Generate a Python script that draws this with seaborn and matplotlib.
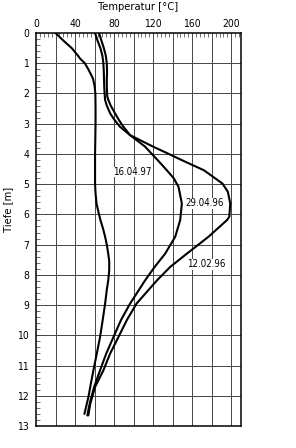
import numpy as np
import pandas as pd
import matplotlib
matplotlib.use("Agg")
import matplotlib.pyplot as plt
import seaborn as sns
from matplotlib.ticker import MultipleLocator

# --- data ---
depth_a = [0, 0.25, 0.5, 0.75, 0.84, 1.0, 1.2, 1.5, 1.75, 2.0, 2.5, 3.0, 4.0, 5.0, 5.3, 5.64,
           5.9, 6.19, 6.45, 6.74, 7.0, 7.3, 7.55, 7.85, 8.18, 8.5, 8.95, 9.5, 10.06, 10.6,
           11.16, 11.6, 12.04, 12.3, 12.6]
temp_a = [20, 28, 36.6, 43, 45, 50, 53.6, 58.3, 60, 60.8, 61, 61, 60.5, 60.5, 61, 62,
          63.8, 66, 68.5, 70.8, 72.5, 74, 75, 75, 74, 72.5, 70.8, 68.3, 65.6, 62.3,
          58.8, 56.2, 53.7, 51.8, 49.6]

depth_b = [0, 0.25, 0.5, 0.75, 1.0, 1.3, 1.56, 1.85, 2.1, 2.22, 2.4, 2.66, 2.88, 3.1, 3.38,
           3.76, 4.0, 4.2, 4.54, 4.8, 5.09, 5.64, 6.19, 6.74, 7.3, 7.74, 8.18, 8.95, 9.5, 10.06,
           10.6, 11.16, 11.71, 12.26, 12.65]
temp_b = [64.6, 67, 69.5, 71.5, 72.5, 72.8, 72.5, 72.6, 73, 74.2, 76.5, 81, 85, 89.5, 96.4,
          111.8, 118.6, 124.5, 134, 141, 146, 149.4, 147.7, 142.6, 132.3, 121.5, 111.8, 96.4, 87, 79.3,
          72, 65.6, 59.5, 55, 52.6]

depth_c = [0, 0.25, 0.5, 0.75, 1.0, 1.3, 1.56, 1.85, 2.1, 2.22, 2.4, 2.66, 2.88, 3.1, 3.38,
           3.76, 4.0, 4.2, 4.54, 4.98, 5.25, 5.64, 6.08, 6.19, 6.74, 7.3, 7.74, 8.18, 8.95, 9.5,
           10.06, 10.6, 11.16, 11.71, 12.26, 12.65]
temp_c = [60.5, 63, 66, 68, 69, 69.5, 69.7, 70, 70.5, 70.8, 72.5, 76, 80.5, 86, 96.4,
          120, 136, 149, 172, 191, 196.5, 199, 198, 195.6, 176.7, 154.5, 137.4, 124, 103, 93,
          84.4, 76, 69, 60.5, 55.6, 53.6]

series_names = ["16.04.97", "29.04.96", "12.02.96"]
label_pos_t = [79, 153, 154.5]
label_pos_d = [4.6, 5.63, 7.65]
x_ticks = [0, 40, 80, 120, 160, 200]
y_ticks = list(range(0, 14))

df = pd.concat([
    pd.DataFrame({"Temperatur": temp_a, "Tiefe": depth_a, "Serie": series_names[0]}),
    pd.DataFrame({"Temperatur": temp_b, "Tiefe": depth_b, "Serie": series_names[1]}),
    pd.DataFrame({"Temperatur": temp_c, "Tiefe": depth_c, "Serie": series_names[2]}),
])

sns.set_style("white")
plt.rcParams["font.family"] = ["DejaVu Sans"]
plt.rcParams["font.stretch"] = "condensed"
plt.rcParams["text.color"] = "black"
plt.rcParams["axes.labelcolor"] = "black"
plt.rcParams["xtick.color"] = "black"
plt.rcParams["ytick.color"] = "black"

fig = plt.figure(figsize=(2.96, 4.48), dpi=100)
ax = fig.add_axes([36 / 296, 1 - 426 / 448, 205 / 296, 393 / 448])

sns.lineplot(data=df, x="Temperatur", y="Tiefe", hue="Serie", orient="y", sort=True,
             estimator=None, palette=["black"] * 3, legend=False, linewidth=1.5, ax=ax)
for ln in ax.get_lines():
    ln.set_solid_joinstyle("round")
    ln.set_solid_capstyle("round")

for name, t, d in zip(series_names, label_pos_t, label_pos_d):
    ax.text(t, d, name, fontsize=7, ha="left", va="center", fontstretch="condensed",
            color="black", bbox=dict(facecolor="white", edgecolor="none", pad=0.3))

ax.set_xlim(0, 210)
ax.set_ylim(13, 0)
ax.xaxis.tick_top()
ax.xaxis.set_label_position("top")
ax.set_xticks(x_ticks)
ax.set_yticks(y_ticks)
ax.xaxis.set_minor_locator(MultipleLocator(4))
ax.yaxis.set_minor_locator(MultipleLocator(0.2))
ax.tick_params(axis="x", which="major", length=0, labelsize=7.5, pad=3, labelcolor="black")
ax.tick_params(axis="y", which="major", length=0, labelsize=7.5, pad=5, labelcolor="black")
ax.tick_params(axis="x", which="minor", direction="in", length=3, width=0.6, top=True, bottom=False, color="#555555")
ax.tick_params(axis="y", which="minor", direction="in", length=3, width=0.6, left=True, right=False, color="#555555")

for v in range(20, 210, 20):
    ax.axvline(v, color="#444444", linewidth=0.7, zorder=0)
for h in range(1, 13):
    ax.axhline(h, color="#444444", linewidth=0.7, zorder=0)

ax.set_xlabel("Temperatur [°C]", fontsize=8, labelpad=6, color="black")
ax.set_ylabel("Tiefe [m]", fontsize=8, color="black")
ax.yaxis.set_label_coords(-0.11, 0.55)
for s in ax.spines.values():
    s.set_color("black")
    s.set_linewidth(1.1)

fig.savefig("out.png", dpi=100)
